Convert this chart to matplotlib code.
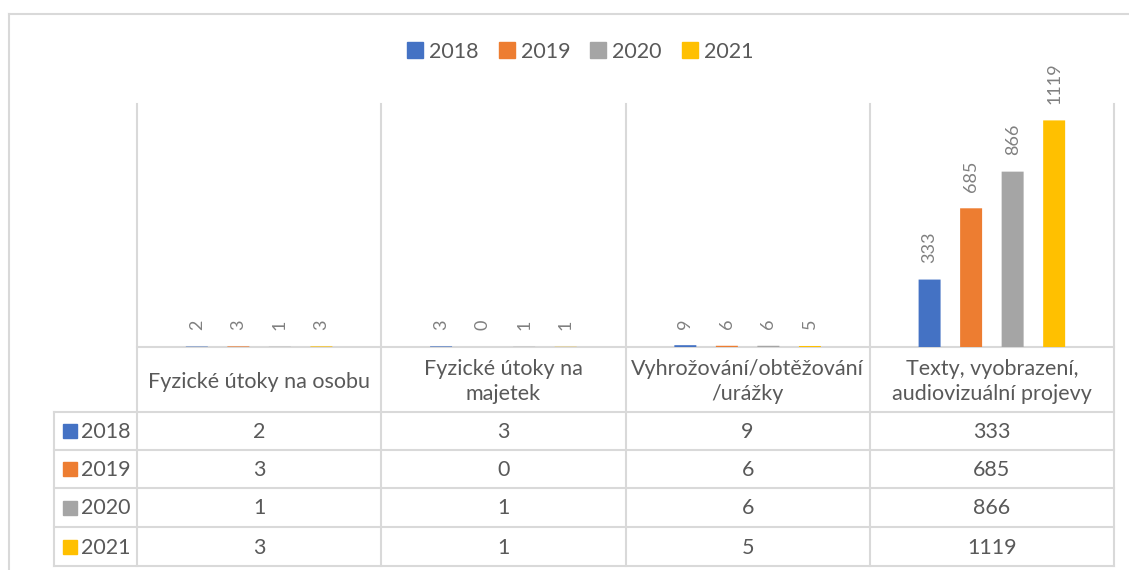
import numpy as np
import matplotlib
matplotlib.use("Agg")
import matplotlib.pyplot as plt
from matplotlib.lines import Line2D

categories = ["Fyzické útoky na osobu", "Fyzické útoky na\nmajetek",
              "Vyhrožování/obtěžování\n/urážky", "Texty, vyobrazení,\naudiovizuální projevy"]
years = ["2018", "2019", "2020", "2021"]
v2018 = [2, 3, 9, 333]
v2019 = [3, 0, 6, 685]
v2020 = [1, 1, 6, 866]
v2021 = [3, 1, 5, 1119]
series = [v2018, v2019, v2020, v2021]
colors = ["#4472C4", "#ED7D31", "#A5A5A5", "#FFC000"]

plt.rcParams["font.family"] = ["Lato", "DejaVu Sans"]
TEXT = "#595959"
GRID = "#D9D9D9"
FS = 15.5

W, H = 1129, 570
fig = plt.figure(figsize=(W / 100, H / 100), dpi=100)

def px_axes(l, t, r, b):
    return fig.add_axes([l / W, 1 - b / H, (r - l) / W, (b - t) / H])

# layout in pixels
PL, PR, PT, PB = 137, 1114, 104, 347
TL = 54
row_y = [412, 450, 488, 527, 566]

# frame / table overlay
ov = px_axes(0, 0, W, H)
ov.set_xlim(0, W)
ov.set_ylim(H, 0)
ov.axis("off")
ov.plot([9, W], [14, 14], color=GRID, lw=1.5)
ov.plot([9, 9], [14, H], color=GRID, lw=1.5)

ncat = len(categories)
col_x = np.linspace(PL, PR, ncat + 1)
for x in col_x:
    ov.plot([x, x], [PT, row_y[-1]], color=GRID, lw=1.5, zorder=1)
ov.plot([TL, TL], [row_y[0], row_y[-1]], color=GRID, lw=1.5)
ov.plot([PL, PR], [PB, PB], color=GRID, lw=1.5)
for y in row_y:
    ov.plot([TL, PR], [y, y], color=GRID, lw=1.5)

for i, cat in enumerate(categories):
    cx = (col_x[i] + col_x[i + 1]) / 2
    ov.text(cx, (PB + row_y[0]) / 2 + 2, cat, ha="center", va="center",
            fontsize=FS, color=TEXT, linespacing=1.32)

for j, (yr, vals) in enumerate(zip(years, series)):
    cy = (row_y[j] + row_y[j + 1]) / 2
    ov.add_patch(plt.Rectangle((63, cy - 7), 14, 14, color=colors[j]))
    ov.text(81, cy + 1, yr, ha="left", va="center", fontsize=FS, color=TEXT)
    for i, v in enumerate(vals):
        cx = (col_x[i] + col_x[i + 1]) / 2
        ov.text(cx, cy + 1, str(v), ha="center", va="center", fontsize=FS, color=TEXT)

# bars
ax = px_axes(PL, PT, PR, PB)
ax.patch.set_alpha(0)
x = np.arange(ncat)
width = 0.09
step = 0.17
for j, vals in enumerate(series):
    off = (j - 1.5) * step
    bars = ax.bar(x + off, vals, width=width, color=colors[j], zorder=3,
                  linewidth=0)
    for b in bars:
        b.set_snap(False)
    for xi, v in zip(x + off, vals):
        ax.annotate(str(v), (xi, v), xytext=(0, 12), textcoords="offset points",
                    rotation=90, ha="center", va="bottom", fontsize=13,
                    color="#808080")
ax.set_xlim(-0.5, ncat - 0.5)
ax.set_ylim(0, 1200)
ax.axis("off")

handles = [Line2D([], [], marker="s", ls="", color=c, markersize=11) for c in colors]
fig.legend(handles, years, loc="center", bbox_to_anchor=(580 / W, 1 - 52 / H),
           ncol=4, frameon=False, fontsize=FS, handletextpad=0.25,
           handlelength=0.8, columnspacing=0.9, labelcolor=TEXT)

fig.savefig("out.png", dpi=100)
